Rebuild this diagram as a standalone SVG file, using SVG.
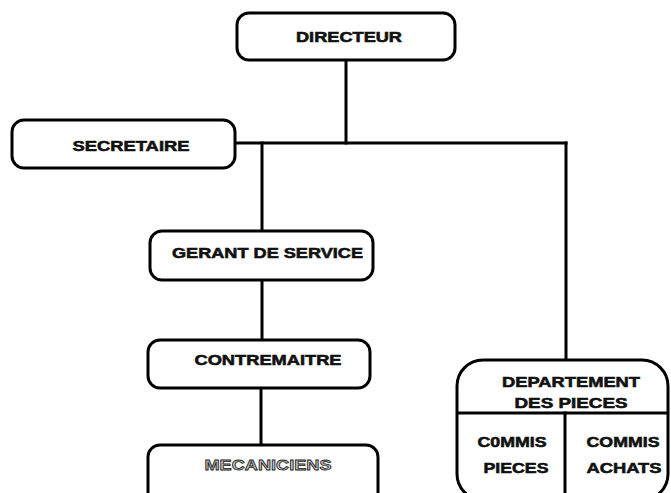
<svg xmlns="http://www.w3.org/2000/svg" width="671" height="493" viewBox="0 0 671 493">
  <style>
    .box { fill: #ffffff; stroke: #000000; stroke-width: 3; }
    .wire { fill: none; stroke: #000000; stroke-width: 3; stroke-linecap: square; }
    .lbl { font-family: "Liberation Sans", Arial, sans-serif; font-weight: bold; font-size: 15.5px; fill: #111111; stroke: #111111; stroke-width: 0.6; text-anchor: middle; }
    .hollow { fill: #c8c8c8; stroke: #222222; stroke-width: 0.8; }
  </style>
  <rect width="671" height="493" fill="#ffffff"/>

  <g id="connectors">
    <line class="wire" x1="346" y1="60" x2="346" y2="143"/>
    <line class="wire" x1="236" y1="143" x2="566" y2="143"/>
    <line class="wire" x1="262" y1="143" x2="262" y2="231"/>
    <line class="wire" x1="262" y1="280" x2="262" y2="340"/>
    <line class="wire" x1="261" y1="388" x2="261" y2="445"/>
    <line class="wire" x1="566" y1="143" x2="566" y2="360"/>
  </g>

  <g id="directeur">
    <rect class="box" x="237" y="13" width="218" height="47" rx="12"/>
    <text class="lbl" x="349" y="42" textLength="106" lengthAdjust="spacingAndGlyphs">DIRECTEUR</text>
  </g>

  <g id="secretaire">
    <rect class="box" x="12" y="120" width="223" height="48" rx="12"/>
    <text class="lbl" x="131" y="151" textLength="117" lengthAdjust="spacingAndGlyphs">SECRETAIRE</text>
  </g>

  <g id="gerant">
    <rect class="box" x="150" y="231" width="223" height="49" rx="12"/>
    <text class="lbl" x="267.5" y="258" textLength="191" lengthAdjust="spacingAndGlyphs">GERANT DE SERVICE</text>
  </g>

  <g id="contremaitre">
    <rect class="box" x="148" y="340" width="222" height="48" rx="12"/>
    <text class="lbl" x="268" y="365" textLength="147" lengthAdjust="spacingAndGlyphs">CONTREMAITRE</text>
  </g>

  <g id="mecaniciens">
    <rect class="box" x="148" y="445" width="230" height="60" rx="12"/>
    <text class="lbl hollow" x="268" y="470" font-size="13.5" textLength="127" lengthAdjust="spacingAndGlyphs">MECANICIENS</text>
  </g>

  <g id="departement">
    <rect class="box" x="457" y="360" width="211" height="140" rx="26"/>
    <line class="wire" x1="458" y1="413" x2="667" y2="413" stroke-linecap="butt"/>
    <line class="wire" x1="565" y1="413" x2="565" y2="500" stroke-linecap="butt"/>
    <text class="lbl" x="571" y="387" textLength="138" lengthAdjust="spacingAndGlyphs">DEPARTEMENT</text>
    <text class="lbl" x="571" y="408" textLength="113" lengthAdjust="spacingAndGlyphs">DES PIECES</text>
    <text class="lbl" x="512" y="447" textLength="69" lengthAdjust="spacingAndGlyphs">C0MMIS</text>
    <text class="lbl" x="516" y="473" textLength="65" lengthAdjust="spacingAndGlyphs">PIECES</text>
    <text class="lbl" x="623" y="447" textLength="73" lengthAdjust="spacingAndGlyphs">COMMIS</text>
    <text class="lbl" x="624" y="473" textLength="75" lengthAdjust="spacingAndGlyphs">ACHATS</text>
  </g>
</svg>
